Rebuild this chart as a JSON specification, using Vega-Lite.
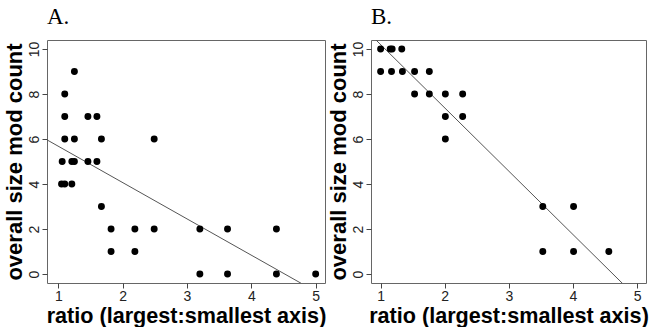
{
  "$schema": "https://vega.github.io/schema/vega-lite/v6.json",
  "padding": {"left": 2, "top": 5, "right": 0, "bottom": 0},
  "background": "white",
  "spacing": -1,
  "datasets": {
    "a": [
      {"x": 1.25, "y": 9}, {"x": 1.10, "y": 8},
      {"x": 1.10, "y": 7}, {"x": 1.46, "y": 7}, {"x": 1.60, "y": 7},
      {"x": 1.10, "y": 6}, {"x": 1.25, "y": 6}, {"x": 1.67, "y": 6}, {"x": 2.49, "y": 6},
      {"x": 1.06, "y": 5}, {"x": 1.21, "y": 5}, {"x": 1.25, "y": 5}, {"x": 1.46, "y": 5}, {"x": 1.60, "y": 5},
      {"x": 1.05, "y": 4}, {"x": 1.10, "y": 4}, {"x": 1.21, "y": 4},
      {"x": 1.67, "y": 3},
      {"x": 1.82, "y": 2}, {"x": 2.19, "y": 2}, {"x": 2.49, "y": 2}, {"x": 3.20, "y": 2}, {"x": 3.63, "y": 2}, {"x": 4.39, "y": 2},
      {"x": 1.82, "y": 1}, {"x": 2.19, "y": 1},
      {"x": 3.20, "y": 0}, {"x": 3.63, "y": 0}, {"x": 4.39, "y": 0}, {"x": 5.00, "y": 0}
    ],
    "b": [
      {"x": 1.00, "y": 10}, {"x": 1.15, "y": 10}, {"x": 1.18, "y": 10}, {"x": 1.33, "y": 10},
      {"x": 1.00, "y": 9}, {"x": 1.17, "y": 9}, {"x": 1.34, "y": 9}, {"x": 1.53, "y": 9}, {"x": 1.76, "y": 9},
      {"x": 1.53, "y": 8}, {"x": 1.76, "y": 8}, {"x": 2.01, "y": 8}, {"x": 2.28, "y": 8},
      {"x": 2.01, "y": 7}, {"x": 2.28, "y": 7},
      {"x": 2.01, "y": 6},
      {"x": 3.53, "y": 3}, {"x": 4.01, "y": 3},
      {"x": 3.53, "y": 1}, {"x": 4.01, "y": 1}, {"x": 4.56, "y": 1}
    ],
    "lineA": [{"x": 0.8, "y": 6.0}, {"x": 5.2, "y": -1.1}],
    "lineB": [{"x": 0.8, "y": 10.76}, {"x": 5.2, "y": -1.62}]
  },
  "hconcat": [
    {
      "title": {"text": "A.", "anchor": "start", "frame": "group", "font": "Liberation Serif", "fontSize": 23, "fontWeight": "normal", "color": "black", "baseline": "bottom", "offset": -12},
      "width": 278, "height": 243,
      "layer": [
        {
          "data": {"name": "lineA"},
          "mark": {"type": "line", "color": "#555", "strokeWidth": 1, "clip": true},
          "encoding": {
            "x": {"field": "x", "type": "quantitative", "scale": {"domain": [0.824, 5.145], "nice": false, "zero": false}},
            "y": {"field": "y", "type": "quantitative", "scale": {"domain": [-0.4, 10.4], "nice": false, "zero": false}}
          }
        },
        {
          "data": {"name": "a"},
          "mark": {"type": "circle", "color": "black", "opacity": 1, "size": 48},
          "encoding": {
            "x": {"field": "x", "type": "quantitative", "title": "ratio (largest:smallest axis)", "axis": {"values": [1, 2, 3, 4, 5], "format": "d"}},
            "y": {"field": "y", "type": "quantitative", "title": "overall size mod count", "axis": {"values": [0, 2, 4, 6, 8, 10], "format": "d"}}
          }
        }
      ]
    },
    {
      "title": {"text": "B.", "anchor": "start", "frame": "group", "font": "Liberation Serif", "fontSize": 23, "fontWeight": "normal", "color": "black", "baseline": "bottom", "offset": -12},
      "width": 275, "height": 243,
      "layer": [
        {
          "data": {"name": "lineB"},
          "mark": {"type": "line", "color": "#555", "strokeWidth": 1, "clip": true},
          "encoding": {
            "x": {"field": "x", "type": "quantitative", "scale": {"domain": [0.85, 5.14], "nice": false, "zero": false}},
            "y": {"field": "y", "type": "quantitative", "scale": {"domain": [-0.4, 10.4], "nice": false, "zero": false}}
          }
        },
        {
          "data": {"name": "b"},
          "mark": {"type": "circle", "color": "black", "opacity": 1, "size": 48},
          "encoding": {
            "x": {"field": "x", "type": "quantitative", "title": "ratio (largest:smallest axis)", "axis": {"values": [1, 2, 3, 4, 5], "format": "d"}},
            "y": {"field": "y", "type": "quantitative", "title": "overall size mod count", "axis": {"values": [0, 2, 4, 6, 8, 10], "format": "d"}}
          }
        }
      ]
    }
  ],
  "config": {
    "view": {"stroke": "#666", "strokeWidth": 1},
    "axis": {
      "domain": false, "grid": false,
      "tickColor": "#444", "tickSize": 5, "tickWidth": 1,
      "labelFont": "Liberation Sans", "labelFontSize": 14, "labelColor": "#222", "labelPadding": 1,
      "titleFont": "Liberation Sans", "titleFontWeight": "bold", "titleColor": "black"
    },
    "axisY": {"labelAngle": 270, "titlePadding": 1, "titleFontSize": 22},
    "axisX": {"titlePadding": 2, "titleFontSize": 21.6}
  }
}
